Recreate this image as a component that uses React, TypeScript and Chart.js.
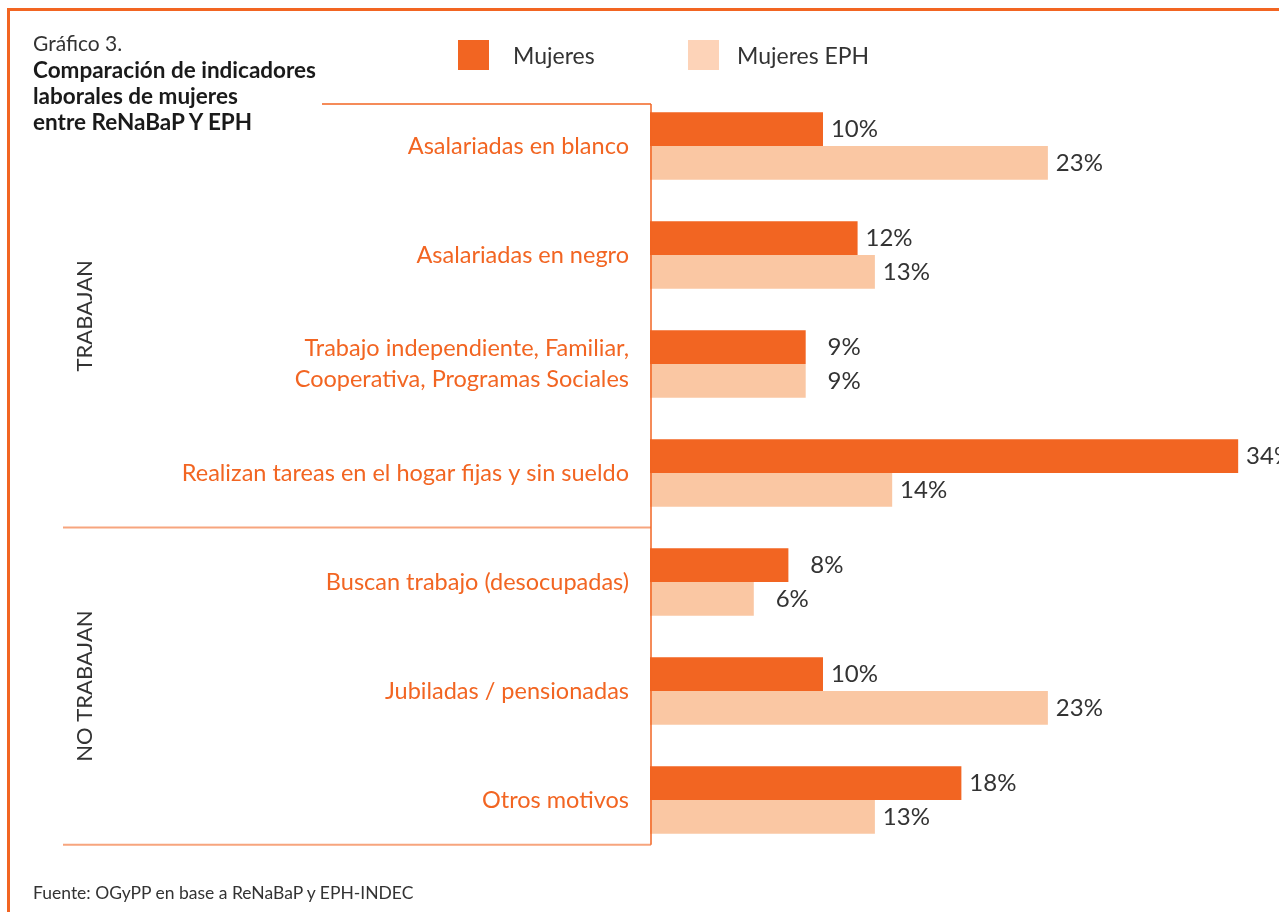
import React, { useEffect, useRef } from "react";
import { Chart, registerables } from "chart.js";

Chart.register(...registerables);

const categories: (string | string[])[] = [
  "Asalariadas en blanco",
  "Asalariadas en negro",
  ["Trabajo independiente, Familiar,", "Cooperativa, Programas Sociales"],
  "Realizan tareas en el hogar fijas y sin sueldo",
  "Buscan trabajo (desocupadas)",
  "Jubiladas / pensionadas",
  "Otros motivos",
];
const mujeres = [10, 12, 9, 34, 8, 10, 18];
const mujeresEPH = [23, 13, 9, 14, 6, 23, 13];
const seriesNames = ["Mujeres", "Mujeres EPH"];
const groupLabels = ["TRABAJAN", "NO TRABAJAN"];
const titleSmall = "Gráfico 3.";
const titleLines = ["Comparación de indicadores", "laborales de mujeres", "entre ReNaBaP Y EPH"];
const source = "Fuente: OGyPP en base a ReNaBaP y EPH-INDEC";

const DARK = "#F26522";
const LIGHT = "#FAC7A3";
const LIGHT_LEGEND = "#FDD3B8";
const LINE_LIGHT = "#F7A57E";
const FONT = "Lato, 'Open Sans', sans-serif";
const W = "400";

const decorPlugin = {
  id: "decor",
  afterDatasetsDraw(chart: any) {
    const ctx = chart.ctx;
    const x = chart.scales.x;
    const y = chart.scales.y;
    const step = y.getPixelForValue(1) - y.getPixelForValue(0);
    const axisX = x.getPixelForValue(0) + 1;
    const topY = y.getPixelForValue(0) - 0.385 * step;
    const midY = (y.getPixelForValue(3) + y.getPixelForValue(4)) / 2;
    const botY = y.getPixelForValue(6) + 0.41 * step;
    ctx.save();
    ctx.lineWidth = 1.5;
    ctx.strokeStyle = DARK;
    ctx.beginPath();
    ctx.moveTo(322, topY);
    ctx.lineTo(axisX, topY);
    ctx.stroke();
    ctx.strokeStyle = LINE_LIGHT;
    ctx.lineWidth = 2;
    ctx.beginPath();
    ctx.moveTo(63, midY);
    ctx.lineTo(axisX, midY);
    ctx.moveTo(63, botY);
    ctx.lineTo(axisX, botY);
    ctx.stroke();
    ctx.strokeStyle = DARK;
    ctx.lineWidth = 1.5;
    ctx.beginPath();
    ctx.moveTo(axisX, topY);
    ctx.lineTo(axisX, botY);
    ctx.stroke();

    ctx.fillStyle = "#333";
    ctx.font = `${W} 22px ${FONT}`;
    ctx.textAlign = "center";
    ctx.textBaseline = "middle";
    const groupCenters = [(topY + midY) / 2, (midY + botY) / 2];
    groupLabels.forEach((g, i) => {
      ctx.save();
      ctx.translate(85, groupCenters[i]);
      ctx.rotate(-Math.PI / 2);
      ctx.fillText(g, 0, 0);
      ctx.restore();
    });

    ctx.font = `${W} 24px ${FONT}`;
    ctx.textAlign = "right";
    ctx.fillStyle = "#333";
    chart.data.datasets.forEach((ds: any, di: number) => {
      const meta = chart.getDatasetMeta(di);
      meta.data.forEach((bar: any, i: number) => {
        ctx.fillText(ds.data[i] + "%", bar.x + 55, bar.y);
      });
    });
    ctx.restore();
  },
};

export default function App() {
  const ref = useRef<HTMLCanvasElement | null>(null);
  useEffect(() => {
    if (!ref.current) return;
    const chart = new Chart(ref.current, {
      type: "bar",
      data: {
        labels: categories,
        datasets: [
          { label: seriesNames[0], data: mujeres, backgroundColor: DARK },
          { label: seriesNames[1], data: mujeresEPH, backgroundColor: LIGHT },
        ],
      },
      options: {
        indexAxis: "y",
        animation: false,
        responsive: false,
        maintainAspectRatio: false,
        layout: { padding: { top: 91.5, bottom: 57.5, left: 0, right: 0 } },
        datasets: { bar: { categoryPercentage: 0.62, barPercentage: 1 } },
        plugins: { legend: { display: false }, title: { display: false }, tooltip: { enabled: false } },
        scales: {
          x: { display: false, min: 0, max: 36.36 },
          y: {
            grid: { display: false, drawTicks: false },
            border: { display: false },
            ticks: {
              color: DARK,
              padding: 21,
              font: { family: FONT, size: 23.5, weight: W, lineHeight: 1.32 },
            },
            afterFit(scale: any) {
              scale.width = 650;
            },
          },
        },
      },
      plugins: [decorPlugin],
    });
    return () => chart.destroy();
  }, []);

  return (
    <div style={{ position: "absolute", left: 0, top: 0, width: 1279, height: 912, overflow: "hidden", background: "#fff", fontFamily: FONT }}>
      <div style={{ position: "absolute", left: 7, top: 8, width: 1290, height: 920, borderTop: `3px solid ${DARK}`, borderLeft: `3px solid ${DARK}` }} />
      <canvas ref={ref} width={1279} height={912} style={{ position: "absolute", left: 0, top: 0, width: 1279, height: 912 }} />
      <div style={{ position: "absolute", left: 33, top: 30, color: "#333", fontSize: 21, lineHeight: "26px", fontWeight: 400 }}>{titleSmall}</div>
      <div style={{ position: "absolute", left: 33, top: 57, color: "#1a1a1a", fontSize: 22.5, lineHeight: "26px", fontWeight: 700 }}>
        {titleLines.map((l, i) => (
          <div key={i}>{l}</div>
        ))}
      </div>
      <div style={{ position: "absolute", left: 458, top: 40, width: 31, height: 30, background: DARK }} />
      <div style={{ position: "absolute", left: 513, top: 40, height: 30, lineHeight: "30px", fontSize: 23, color: "#333", fontWeight: 400 }}>{seriesNames[0]}</div>
      <div style={{ position: "absolute", left: 688, top: 40, width: 31, height: 30, background: LIGHT_LEGEND }} />
      <div style={{ position: "absolute", left: 737, top: 40, height: 30, lineHeight: "30px", fontSize: 23, color: "#333", fontWeight: 400 }}>{seriesNames[1]}</div>
      <div style={{ position: "absolute", left: 33, top: 881, lineHeight: "24px", fontSize: 17.5, color: "#333", fontWeight: 400 }}>{source}</div>
    </div>
  );
}
